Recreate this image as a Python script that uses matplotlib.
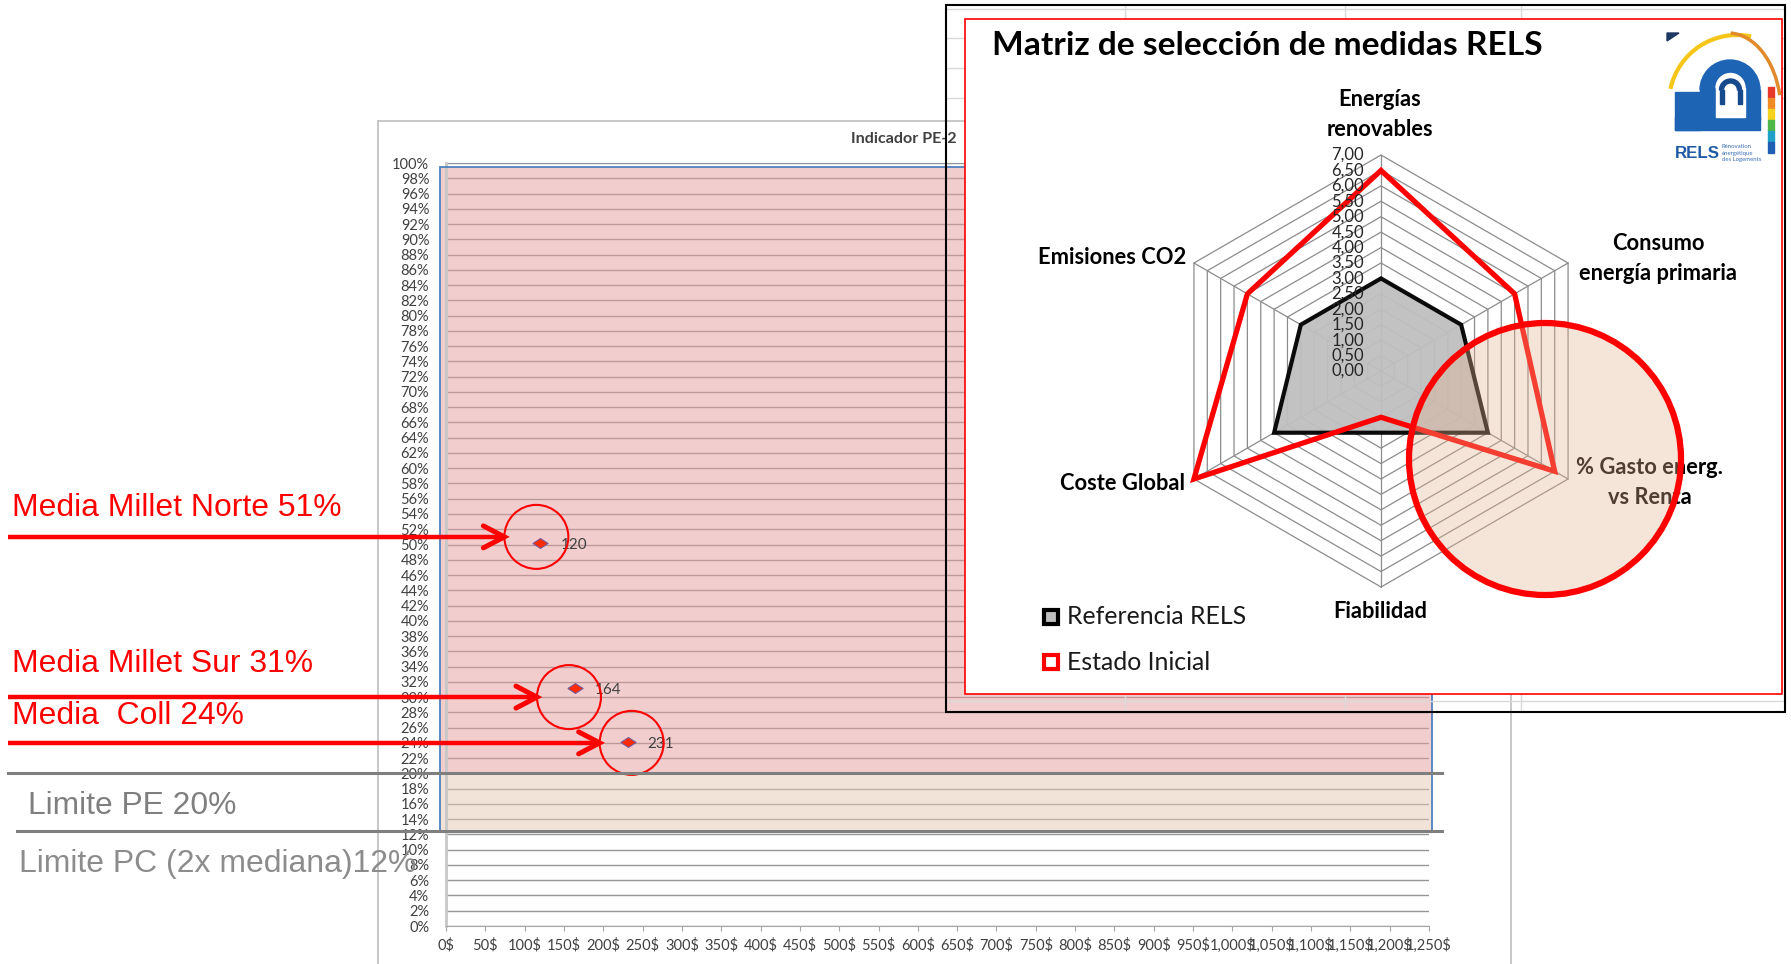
import numpy as np
import matplotlib
matplotlib.use('Agg')
import matplotlib.pyplot as plt
from matplotlib.patches import Rectangle, Circle, Polygon, Arc, Wedge

plt.rcParams['font.family'] = ['Lato', 'DejaVu Sans']

# datos del indicador PE-2 (gasto $ / % de renta)
gasto = [120, 164, 231]
pe = [50.2, 31.2, 24.1]
etiq_pt = ['120', '164', '231']
media_txt = ['Media Millet Norte 51%', 'Media Millet Sur 31%', 'Media  Coll 24%']
media_nivel = [51, 30, 24]
limite_pe = 20
limite_pc = 12.5
limite_txt = ['Limite PE 20%', 'Limite PC (2x mediana)12%']
x_ticks = list(range(0, 1251, 50))
y_ticks = list(range(0, 101, 2))

# datos del radar RELS
ejes = ['Energías\nrenovables', 'Consumo\nenergía primaria', '% Gasto energ.\nvs Renta',
        'Fiabilidad', 'Coste Global', 'Emisiones CO2']
ref_rels = [3, 3, 4, 2, 4, 3]
estado_ini = [6.5, 5, 6.5, 1.5, 7, 5]
r_ticks = [0, 0.5, 1, 1.5, 2, 2.5, 3, 3.5, 4, 4.5, 5, 5.5, 6, 6.5, 7]
serie_nom = ['Referencia RELS', 'Estado Inicial']

W, H = 1791, 964
fig = plt.figure(figsize=(W / 100, H / 100), dpi=100)
fig.patch.set_facecolor('white')


def caja(x0, y0, x1, y1):
    return [x0 / W, 1 - y1 / H, (x1 - x0) / W, (y1 - y0) / H]


def Y(y):
    return H - y


def fit(t, width):
    r = fig.canvas.get_renderer()
    w = t.get_window_extent(r).width
    t.set_fontsize(t.get_fontsize() * width / w)
    return t.get_fontsize()


# ---------------- grafico de dispersion ----------------
ax = fig.add_axes(caja(446, 163, 1429, 926), zorder=1)
ax.set_xlim(0, 1250)
ax.set_ylim(0, 100)
ax.set_xticks(x_ticks)
ax.set_xticklabels([f'{v:,}$' for v in x_ticks])
ax.set_yticks(y_ticks)
ax.set_yticklabels([f'{v}%' for v in y_ticks])
ax.grid(axis='y', color='#959595', lw=1)
ax.set_axisbelow(True)
for s in ['top', 'right']:
    ax.spines[s].set_visible(False)
ax.spines['left'].set_color('#C8C8C8')
ax.spines['left'].set_linewidth(2)
ax.spines['bottom'].set_color('#A6A6A6')
ax.tick_params(axis='y', length=0, pad=12, labelsize=10.5, labelcolor='#404040')
ax.tick_params(axis='x', length=3.5, color='#A6A6A6', pad=5, labelsize=10.5, labelcolor='#404040')


def px2x(p):
    return (p - 446) * 1250 / 983


x0r, x1r = px2x(440), px2x(1432)
ax.add_patch(Rectangle((x0r, limite_pe), x1r - x0r, 99.5 - limite_pe, fc=(229/255, 157/255, 157/255),
                       alpha=0.5, ec='none', zorder=2, clip_on=False))
ax.add_patch(Rectangle((x0r, limite_pc), x1r - x0r, limite_pe - limite_pc, fc=(229/255, 201/255, 179/255),
                       alpha=0.5, ec='none', zorder=2, clip_on=False))
ax.add_patch(Rectangle((x0r, limite_pc), x1r - x0r, 99.5 - limite_pc, fill=False, ec='#4F81BD',
                       lw=1.3, zorder=3, clip_on=False))

diamante = [(-1, 0), (0, 0.65), (1, 0), (0, -0.65), (-1, 0)]
ax.plot(gasto, pe, ls='none', marker=diamante, ms=11, mfc='#FF2A00', mec='#7A5C9C', mew=0.8, zorder=5)
for x, y, t in zip(gasto, pe, etiq_pt):
    ax.annotate(t, (x, y), xytext=(20, -2), textcoords='offset pixels', ha='left', va='center',
                fontsize=11, color='#404040', zorder=6)

# ---------------- capa de anotaciones ----------------
ao = fig.add_axes([0, 0, 1, 1], zorder=2)
ao.set_xlim(0, W)
ao.set_ylim(0, H)
ao.axis('off')
ao.patch.set_visible(False)

# marco del grafico
gris_m = '#BFBFBF'
ao.plot([378, 378], [Y(121), 0], color=gris_m, lw=1.2)
ao.plot([378, 1511], [Y(121), Y(121)], color=gris_m, lw=1.2)
ao.plot([1511, 1511], [Y(121), 0], color=gris_m, lw=1.2)
t = ao.text(851, Y(139), 'Indicador PE-2', ha='left', va='center', fontsize=9, fontweight='bold', color='#404040')
fit(t, 106)

# flechas, circulos y textos
base_txt = [516, 672, 724]
ancho_txt = [328, 300, 231]
circ_dx = [-4, -6, 4]
for i in range(3):
    X, Yp = ax.transData.transform((gasto[i], media_nivel[i]))
    cx = X + circ_dx[i]
    tip = cx - 32
    ao.plot([8, tip - 2], [Yp, Yp], color='red', lw=3.2, solid_capstyle='butt', zorder=3)
    ao.plot([tip - 21, tip, tip - 21], [Yp + 11, Yp, Yp - 11], color='red', lw=3.6,
            solid_capstyle='round', solid_joinstyle='miter', zorder=3)
    ao.add_patch(Circle((cx, Yp), 32, fill=False, ec='red', lw=1.5, zorder=3))
    t = ao.text(12, Y(base_txt[i]), media_txt[i], ha='left', va='baseline', color='red',
                family=['Liberation Sans', 'DejaVu Sans'], fontsize=22)
    fit(t, ancho_txt[i])

# lineas limite
_, ype = ax.transData.transform((0, limite_pe))
_, ypc = ax.transData.transform((0, limite_pc))
ao.plot([8, 1442], [ype, ype], color='#7F7F7F', lw=2.2, zorder=3)
ao.plot([17, 1442], [ypc, ypc], color='#7F7F7F', lw=2.2, zorder=3)
t = ao.text(28, Y(814), limite_txt[0], ha='left', va='baseline', color='#7F7F7F',
            family=['Liberation Sans', 'DejaVu Sans'], fontsize=22)
fit(t, 208)
t = ao.text(19, Y(872), limite_txt[1], ha='left', va='baseline', color='#8C8C8C',
            family=['Liberation Sans', 'DejaVu Sans'], fontsize=22)
fit(t, 396)

# cuadricula de excel y marcos del recuadro
gc = '#D9D9D9'
for yy in [9, 38, 68, 98]:
    ao.plot([946, 1785], [Y(yy), Y(yy)], color=gc, lw=1, zorder=5)
ao.plot([946, 1785], [Y(701), Y(701)], color=gc, lw=1, zorder=5)
for xx in [1125, 1345, 1521]:
    ao.plot([xx, xx], [Y(5), Y(712)], color=gc, lw=1, zorder=5)
ao.add_patch(Rectangle((946, Y(712)), 1785 - 946, 707, fill=False, ec='black', lw=1.5, zorder=6))
ao.add_patch(Rectangle((965, Y(694)), 1782 - 965, 675, fc='white', ec='red', lw=1.2, zorder=7))

# ---------------- radar ----------------
cxr, cyr, R7 = 1381, 371, 216
half = 7.5 * R7 / 7
ar = fig.add_axes(caja(cxr - half, cyr - half, cxr + half, cyr + half), zorder=3)
ar.set_xlim(-7.5, 7.5)
ar.set_ylim(-7.5, 7.5)
ar.axis('off')
ar.patch.set_visible(False)
ang = np.deg2rad([90, 30, -30, -90, -150, 150])


def pts(vals):
    v = np.asarray(vals, dtype=float)
    return np.column_stack([v * np.cos(ang), v * np.sin(ang)])


for r in r_ticks[1:]:
    ar.add_patch(Polygon(pts([r] * 6), closed=True, fill=False, ec='#8C8C8C', lw=0.9, zorder=1))
for a in ang:
    ar.plot([0, 7 * np.cos(a)], [0, 7 * np.sin(a)], color='#8C8C8C', lw=0.9, zorder=1)
ar.add_patch(Polygon(pts(ref_rels), closed=True, fc='#BFBFBF', ec='black', lw=3, joinstyle='miter',
                     alpha=0.95, zorder=2))
ar.add_patch(Polygon(pts(estado_ini), closed=True, fill=False, ec='red', lw=3.8, joinstyle='miter', zorder=3))
for r in r_ticks:
    ar.text(-0.55, r, f'{r:.2f}'.replace('.', ','), ha='right', va='center', fontsize=12, color='#262626',
            zorder=4)

# ---------------- textos del radar, leyenda, circulo y logo ----------------
at = fig.add_axes([0, 0, 1, 1], zorder=4)
at.set_xlim(0, W)
at.set_ylim(0, H)
at.axis('off')
at.patch.set_visible(False)

t = at.text(992, Y(55), 'Matriz de selección de medidas RELS', ha='left', va='baseline',
            fontsize=24, fontweight='bold', color='black')
fit(t, 550)

t = at.text(1186, Y(258), ejes[5], ha='right', va='center', fontsize=15, fontweight='bold')
fs = fit(t, 148)
lab_pos = [(1380, [99, 129], 'center'), (1658, [243, 273], 'center'), (1650, [468, 498], 'center'),
           (1380, [611], 'center'), (1185, [483], 'right')]
for (x, ys, ha), nom in zip(lab_pos, ejes[:5]):
    for yy, linea in zip(ys, nom.split('\n')):
        at.text(x, Y(yy), linea, ha=ha, va='center', fontsize=fs, fontweight='bold', zorder=2)

# leyenda
at.plot([1051], [Y(617)], marker='s', ms=10.5, mfc='#BFBFBF', mec='black', mew=3)
at.plot([1051], [Y(662)], marker='s', ms=10.5, mfc='white', mec='red', mew=3)
t = at.text(1067, Y(617), serie_nom[0], ha='left', va='center', fontsize=16, color='#1A1A1A')
fl = fit(t, 180)
at.text(1067, Y(662), serie_nom[1], ha='left', va='center', fontsize=fl, color='#1A1A1A')

# circulo resaltado
at.add_patch(Circle((1545, Y(459)), 136, fc=(229/255, 178/255, 144/255, 0.35), ec='red', lw=4.5, zorder=5))

# logo RELS
azul = '#1E64B4'
at.add_patch(Polygon([(1667, Y(33)), (1679, Y(33)), (1667, Y(41))], closed=True, color='#1F3864', zorder=6))
at.add_patch(Arc((1737, Y(103)), 136, 136, theta1=78, theta2=168, color='#F5C518', lw=3, zorder=6))
at.add_patch(Arc((1728, Y(112)), 106, 158, theta1=18, theta2=88, color='#E08A2A', lw=2.5, zorder=6))
at.add_patch(Rectangle((1700, Y(120)), 60, 30, color=azul, zorder=6))
at.add_patch(Wedge((1730, Y(90)), 30, 0, 180, color=azul, zorder=6))
at.add_patch(Rectangle((1675, Y(130)), 85, 13, color=azul, zorder=6))
at.add_patch(Rectangle((1675, Y(130)), 25, 38, color=azul, zorder=6))
at.add_patch(Rectangle((1716, Y(117)), 29, 29, color='white', zorder=7))
at.add_patch(Wedge((1730.5, Y(88)), 14.5, 0, 180, color='white', zorder=7))
at.add_patch(Wedge((1730.5, Y(90)), 11, 0, 180, width=4, color='#174A8C', zorder=8))
at.add_patch(Rectangle((1719.5, Y(104)), 4, 14, color='#174A8C', zorder=8))
at.add_patch(Rectangle((1737.5, Y(104)), 4, 14, color='#174A8C', zorder=8))
barra = ['#E8382B', '#F08A24', '#F5D21E', '#4DB848', '#1FA0C8', '#1E5FB4']
for k, c in enumerate(barra):
    at.add_patch(Rectangle((1768, Y(87 + (k + 1) * 11)), 6, 11, color=c, zorder=6))
t = at.text(1675, Y(158), 'RELS', ha='left', va='baseline', fontsize=12, fontweight='bold',
            color='#1F5AA6', family=['Liberation Sans', 'DejaVu Sans'], zorder=6)
fit(t, 45)
for yy, linea in zip([146, 153, 160], ['Rénovation', 'énergétique', 'des Logements']):
    at.text(1722, Y(yy), linea, ha='left', va='center', fontsize=4.3, color='#3A6FB5', zorder=6)

fig.savefig('out.png', dpi=100, facecolor='white')
